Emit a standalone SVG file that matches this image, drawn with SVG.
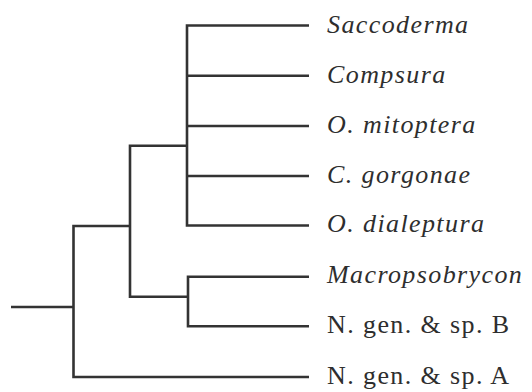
<svg xmlns="http://www.w3.org/2000/svg" width="532" height="392" viewBox="0 0 532 392">
<style>
.e{fill:none;stroke:#333;stroke-width:2.6;stroke-linecap:butt;stroke-linejoin:miter}
.t{font-family:"Liberation Serif","Times New Roman",serif;font-size:26px;fill:#2e2e2e;letter-spacing:1.4px}
.i{font-style:italic}
</style>
<rect width="532" height="392" fill="#fff"/>
<g id="connectors">
<path class="e" d="M11,307H73.5"/>
<path class="e" d="M130,226H73.5V377H309"/>
<path class="e" d="M187,145.7H130V296.7H188"/>
<path class="e" d="M309,25.5H187V225.5H309"/>
<path class="e" d="M187,75.8H309M187,126H309M187,176H309"/>
<path class="e" d="M309,276.7H188V326.3H309"/>
</g>
<g id="n-saccoderma"><text class="t i" x="327" y="32.5">Saccoderma</text></g>
<g id="n-compsura"><text class="t i" x="327" y="82.5">Compsura</text></g>
<g id="n-omitoptera"><text class="t i" x="327" y="132.5">O. mitoptera</text></g>
<g id="n-cgorgonae"><text class="t i" x="327" y="182.5">C. gorgonae</text></g>
<g id="n-odialeptura"><text class="t i" x="327" y="232">O. dialeptura</text></g>
<g id="n-macropsobrycon"><text class="t i" x="327" y="283">Macropsobrycon</text></g>
<g id="n-ngenB"><text class="t" x="327" y="332.5">N. gen. &amp; sp. B</text></g>
<g id="n-ngenA"><text class="t" x="327" y="383.5">N. gen. &amp; sp. A</text></g>
</svg>
